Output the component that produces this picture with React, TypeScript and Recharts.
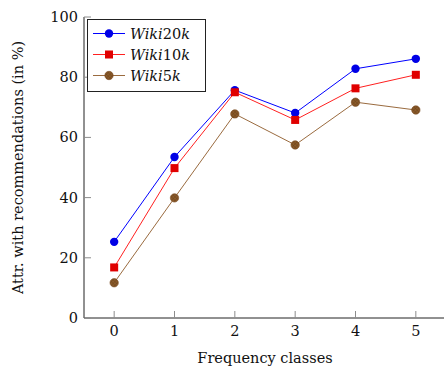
import { LineChart, Line, XAxis, YAxis, Legend } from "recharts";

const classes = [0, 1, 2, 3, 4, 5];
const wiki20k = [25.3, 53.5, 75.7, 68.1, 82.8, 86.1];
const wiki10k = [16.8, 49.8, 75.0, 65.8, 76.3, 80.8];
const wiki5k = [11.7, 39.9, 67.8, 57.5, 71.7, 69.1];
const xTicks = [0, 1, 2, 3, 4, 5];
const yTicks = [0, 20, 40, 60, 80, 100];

const FONT = "'DejaVu Serif', serif";
const TICK_COLOR = "#8c8c8c";
const AXIS_COLOR = "#222";
const txt = { fontFamily: FONT, fontSize: 14.5, fill: "#111" };

type Series = {
  key: string;
  name: string;
  line: string;
  mark: string;
  shape: "circle" | "square";
};

const series: Series[] = [
  { key: "w20", name: "Wiki20k", line: "#0000ff", mark: "#0000e6", shape: "circle" },
  { key: "w10", name: "Wiki10k", line: "#ff2020", mark: "#e00000", shape: "square" },
  { key: "w5", name: "Wiki5k", line: "#9a6b3f", mark: "#8a5a2b", shape: "circle" },
];

const data = classes.map((c, i) => ({
  cls: c,
  w20: wiki20k[i],
  w10: wiki10k[i],
  w5: wiki5k[i],
}));

function Marker({ x, y, s }: { x: number; y: number; s: Series }) {
  if (s.shape === "square") {
    return <rect x={x - 4} y={y - 4} width={8} height={8} fill={s.mark} />;
  }
  if (s.key === "w5") {
    return <circle cx={x} cy={y} r={4.2} fill="url(#hatch)" stroke="#7a4c22" strokeWidth={0.6} />;
  }
  return <circle cx={x} cy={y} r={4.2} fill={s.mark} />;
}

function LabelText({ name, x, y }: { name: string; x: number; y: number }) {
  const m = name.match(/^(Wiki)(\d+)(k)$/);
  if (!m) return <text x={x} y={y} style={txt}>{name}</text>;
  return (
    <text x={x} y={y} style={txt}>
      <tspan style={{ fontStyle: "italic" }}>{m[1]}</tspan>
      <tspan>{m[2]}</tspan>
      <tspan style={{ fontStyle: "italic" }}>{m[3]}</tspan>
    </text>
  );
}

function renderLegend() {
  return (
    <svg width={119} height={73} style={{ display: "block" }}>
      <rect x={0.5} y={0.5} width={118} height={72} fill="#fff" stroke={AXIS_COLOR} strokeWidth={1} />
      {series.map((s, i) => {
        const cy = 14.5 + i * 21;
        return (
          <g key={s.key}>
            <line x1={6} x2={38} y1={cy} y2={cy} stroke={s.line} strokeWidth={1} />
            <Marker x={22} y={cy} s={s} />
            <LabelText name={s.name} x={43} y={cy + 5} />
          </g>
        );
      })}
    </svg>
  );
}

const BottomTick = (props: any) => {
  const { x, y, payload } = props;
  return (
    <g>
      <line x1={x} x2={x} y1={y} y2={y - 7} stroke={TICK_COLOR} />
      <text x={x} y={y + 18} textAnchor="middle" style={txt}>
        {payload.value}
      </text>
    </g>
  );
};

const TopTick = (props: any) => {
  const { x, y } = props;
  return <line x1={x} x2={x} y1={y} y2={y + 7} stroke={TICK_COLOR} />;
};

const LeftTick = (props: any) => {
  const { x, y, payload } = props;
  return (
    <g>
      <line x1={x} x2={x + 7} y1={y} y2={y} stroke={TICK_COLOR} />
      <text x={x - 6} y={y + 5} textAnchor="end" style={txt}>
        {payload.value}
      </text>
    </g>
  );
};

const RightTick = (props: any) => {
  const { x, y } = props;
  return <line x1={x} x2={x - 7} y1={y} y2={y} stroke={TICK_COLOR} />;
};

export default function App() {
  return (
    <div
      style={{
        position: "absolute",
        left: 0,
        top: 0,
        width: 460,
        height: 368,
        background: "#fff",
        fontFamily: FONT,
      }}
    >
      <LineChart
        width={460}
        height={368}
        data={data}
        margin={{ top: 17, right: 14, bottom: 0, left: 0 }}
        style={{ fontFamily: FONT }}
      >
        <defs>
          <pattern id="hatch" width={2.5} height={2.5} patternUnits="userSpaceOnUse" patternTransform="rotate(45)">
            <rect width={2.5} height={2.5} fill="#8a5a2b" />
            <line x1={0} y1={0} x2={0} y2={2.5} stroke="#6b4219" strokeWidth={0.8} />
            <line x1={0} y1={0} x2={2.5} y2={0} stroke="#6b4219" strokeWidth={0.8} />
          </pattern>
        </defs>
        <XAxis
          xAxisId="bottom"
          dataKey="cls"
          type="number"
          domain={[-0.5, 5.5]}
          ticks={xTicks}
          interval={0}
          height={50}
          tickSize={0}
          tickMargin={0}
          tick={BottomTick}
          axisLine={{ stroke: AXIS_COLOR }}
          allowDataOverflow
          label={{
            value: "Frequency classes",
            position: "insideBottom",
            offset: 5,
            style: txt,
          }}
        />
        <XAxis
          xAxisId="top"
          orientation="top"
          dataKey="cls"
          type="number"
          domain={[-0.5, 5.5]}
          ticks={xTicks}
          interval={0}
          height={0}
          tickSize={0}
          tickMargin={0}
          tick={TopTick}
          axisLine={{ stroke: AXIS_COLOR }}
          allowDataOverflow
        />
        <YAxis
          yAxisId="left"
          type="number"
          domain={[0, 100]}
          ticks={yTicks}
          interval={0}
          width={84}
          tickSize={0}
          tickMargin={0}
          tick={LeftTick}
          axisLine={{ stroke: AXIS_COLOR }}
          label={{
            value: "Attr. with recommendations (in %)",
            angle: -90,
            position: "insideLeft",
            offset: 18,
            style: { ...txt, textAnchor: "middle" },
          }}
        />
        <YAxis
          yAxisId="right"
          orientation="right"
          type="number"
          domain={[0, 100]}
          ticks={yTicks}
          interval={0}
          width={0}
          tickSize={0}
          tickMargin={0}
          tick={RightTick}
          axisLine={{ stroke: AXIS_COLOR }}
        />
        <Legend
          layout="horizontal"
          verticalAlign="middle"
          align="center"
          content={renderLegend}
          wrapperStyle={{ left: 87, top: 19, width: 119, height: 73 }}
        />
        {series.map((s) => (
          <Line
            key={s.key}
            xAxisId="bottom"
            yAxisId="left"
            dataKey={s.key}
            name={s.name}
            stroke={s.line}
            strokeWidth={1}
            isAnimationActive={false}
            dot={(p: any) => <Marker key={`${s.key}-${p.index}`} x={p.cx} y={p.cy} s={s} />}
            activeDot={false}
          />
        ))}
      </LineChart>
    </div>
  );
}
